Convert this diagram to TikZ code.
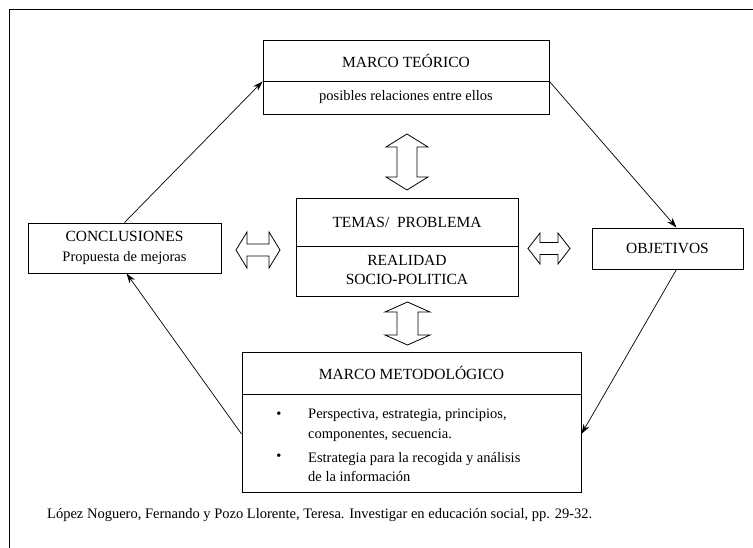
\documentclass[tikz,border=0pt]{standalone}
\usepackage{fontspec}
\setmainfont{Liberation Serif}
\usetikzlibrary{arrows.meta,calc}
\begin{document}
\begin{tikzpicture}[x=1pt,y=-1pt,
  box/.style={draw, line width=0.9pt, inner sep=2pt, align=center, font=\fontsize{14.5}{20}\selectfont},
  caps/.style={font=\fontsize{15.5}{20}\selectfont},
  conn/.style={line width=0.7pt, -{Stealth[length=10pt,width=6.5pt]}},
  blockarrow/.style={draw, line width=0.8pt, line join=miter},
  txt/.style={inner sep=0pt, font=\fontsize{14.5}{19.5}\selectfont}]
\useasboundingbox (0,0) rectangle (753,548);
\draw[line width=1pt] (9,548) -- (9,10) -- (753,10);

% boxes
\node[box, caps, minimum width=286pt, minimum height=41pt] (mt1) at (406,60.5) {MARCO TEÓRICO};
\node[box, minimum width=286pt, minimum height=33pt] (mt2) at (406,97.5) {posibles relaciones entre ellos};

\node[box, caps, minimum width=222pt, minimum height=48pt] (tp1) at (407,222) {TEMAS/\ \ PROBLEMA};
\node[box, caps, minimum width=222pt, minimum height=50pt] (tp2) at (407,271) {\raisebox{-2pt}{\begin{tabular}{@{}c@{}}REALIDAD\\[-1pt]SOCIO-POLITICA\end{tabular}}};

\node[box, minimum width=193pt, minimum height=50pt] (conc) at (124.5,248) {{\fontsize{15.5}{20}\selectfont CONCLUSIONES}\\Propuesta de mejoras};
\node[box, caps, minimum width=151pt, minimum height=41pt] (obj) at (667.5,248.5) {OBJETIVOS};

\node[box, caps, minimum width=339pt, minimum height=42pt] (mm1) at (411.5,373) {MARCO METODOLÓGICO};
\node[box, minimum width=339pt, minimum height=98pt] (mm2) at (411.5,443) {};

\node[txt] (bul1) at (279,415) {\textbullet};
\node[txt] (bul2) at (279,457) {\textbullet};
\node[txt, anchor=west, align=left] (it1) at (308,425) {Perspectiva, estrategia, principios,\\componentes, secuencia.};
\node[txt, anchor=west, align=left] (it2) at (308,467) {Estrategia para la recogida y análisis\\de la información};

\node[txt, anchor=west] (cit) at (47,515) {López Noguero, Fernando y Pozo Llorente, Teresa. Investigar en educación social, pp. 29-32.};

% connectors
\draw[conn] (conc.north) -- (mt1.south west);
\draw[conn] (mt1.south east) -- ([xshift=9pt]obj.north);
\draw[conn] ([xshift=9pt]obj.south) -- ([yshift=9pt]mm2.east);
\draw[conn] ([yshift=9pt]mm2.west) -- ([xshift=2pt]conc.south);

% block double arrows
\draw[blockarrow] (407,134) -- (428,147) -- (417,147) -- (417,177) -- (428,177) -- (407,190) -- (386,177) -- (397,177) -- (397,147) -- (386,147) -- cycle;
\draw[blockarrow] (407.5,302) -- (430,312) -- (418,312) -- (418,335) -- (430,335) -- (407.5,345) -- (385,335) -- (397,335) -- (397,312) -- (385,312) -- cycle;
\draw[blockarrow] (236,250) -- (247,232) -- (247,244) -- (269,244) -- (269,232) -- (280,250) -- (269,268) -- (269,256) -- (247,256) -- (247,268) -- cycle;
\draw[blockarrow] (528,248.5) -- (540,233) -- (540,242.5) -- (558,242.5) -- (558,233) -- (570,248.5) -- (558,264) -- (558,254.5) -- (540,254.5) -- (540,264) -- cycle;
\end{tikzpicture}
\end{document}
